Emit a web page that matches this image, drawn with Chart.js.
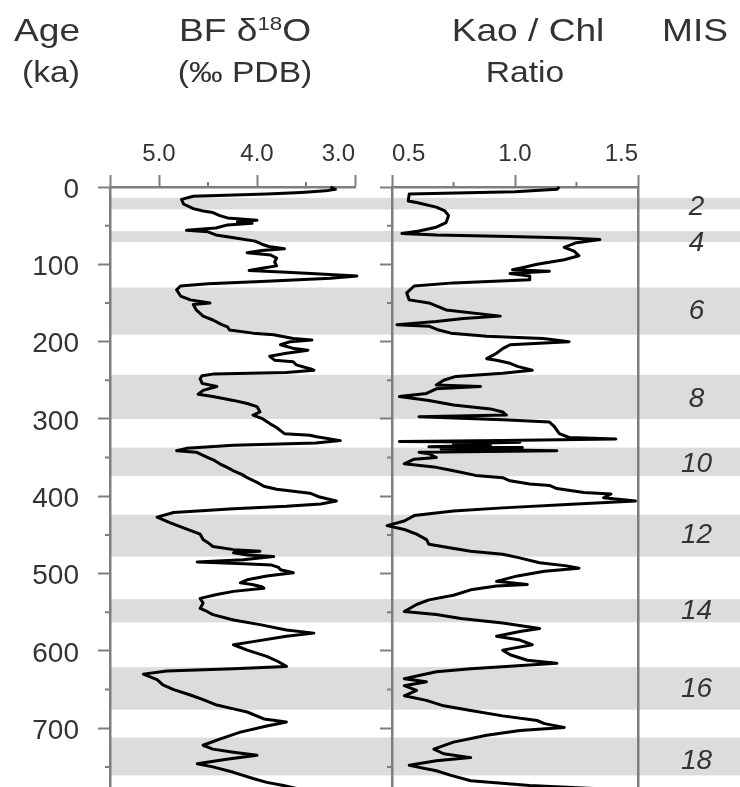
<!DOCTYPE html>
<html lang="en">
<head>
  <meta charset="UTF-8">
  <title>BF d18O and Kao/Chl ratio</title>
  <script src="https://cdn.jsdelivr.net/npm/chart.js@4.4.1/dist/chart.umd.min.js"></script>
  <style>
    body { margin: 0; background: #fff; }
    .wrap { position: relative; width: 740px; height: 787px; overflow: hidden;
            font-family: "Liberation Sans", Arial, Helvetica, sans-serif; color: #333; }
    canvas { position: absolute; top: 0; }
    .head { position: absolute; width: 200px; text-align: center; white-space: nowrap;
            transform: scaleX(1.16); }
    .row1 { top: 14px; font-size: 32px; line-height: 32px; }
    .row2 { top: 58px; font-size: 29px; line-height: 29px; }
    .sup { font-size: 0.6em; vertical-align: 0.55em; line-height: 0; }
  </style>
</head>
<body>
<div class="wrap">
  <canvas id="d18o-graph" width="370" height="787" style="left:0"></canvas>
  <canvas id="ratio-graph" width="370" height="787" style="left:370px"></canvas>

  <div class="head row1" style="left:-53px">Age</div>
  <div class="head row2" style="left:-49px">(ka)</div>
  <div class="head row1" style="left:145px">BF δ<span class="sup">18</span>O</div>
  <div class="head row2" style="left:145px">(‰ PDB)</div>
  <div class="head row1" style="left:428px">Kao / Chl</div>
  <div class="head row2" style="left:425px">Ratio</div>
  <div class="head row1" style="left:595px">MIS</div>
</div>

<script>
const axisColor = '#7e7e7e';
const textColor = '#333';
const fontFamily = '"Liberation Sans", Arial, Helvetica, sans-serif';

// age axis (ka)
const ageMin = 0;
const ageMax = 776;
const ageMinorTicks = [50, 150, 250, 350, 450, 550, 650, 750];

// benthic foram d18O
const d18oAge = [0, 3, 5, 7, 9, 12, 16, 22, 28, 31, 33, 37, 40, 42, 43, 45, 47, 49, 53, 56,
  58, 62, 66, 70, 74, 77, 80, 82, 85, 88, 92, 97, 102, 105, 108, 110, 112, 115, 118, 122,
  125, 128, 133, 141, 146, 150, 152, 159, 167, 172, 178, 181, 185, 189, 191, 196, 198, 200, 204, 209,
  211, 215, 219, 224, 226, 230, 235, 237, 240, 242, 244, 248, 254, 258, 263, 268, 271, 276, 280, 284,
  291, 295, 300, 306, 311, 315, 319, 321, 323, 328, 331, 334, 338, 341, 343, 347, 350, 354, 358, 363,
  367, 372, 376, 382, 387, 391, 396, 401, 406, 410, 413, 416, 421, 427, 434, 441, 449, 456, 460, 465,
  469, 471, 473, 476, 478, 480, 482, 485, 487, 489, 492, 495, 499, 503, 508, 512, 514, 517, 519, 523,
  527, 532, 538, 545, 549, 553, 560, 566, 573, 577, 581, 588, 592, 599, 607, 614, 620, 623, 626, 630,
  637, 644, 650, 657, 663, 670, 675, 679, 688, 692, 697, 705, 714, 722, 727, 731, 735, 740, 746, 750,
  757, 765, 770, 774, 779];
const d18oValue = [3.25, 3.2, 3.3, 3.55, 3.9, 4.65, 4.77, 4.75, 4.65, 4.55, 4.45, 4.38, 4.3, 4.1, 4.0, 4.2, 4.05, 4.3, 4.42, 4.72,
  4.5, 4.42, 4.22, 4.02, 3.95, 3.88, 3.72, 3.95, 4.1, 3.86, 3.8, 3.82, 3.8, 3.95, 4.08, 3.75, 3.45, 2.98, 3.25, 3.9,
  4.5, 4.78, 4.82, 4.78, 4.68, 4.48, 4.65, 4.62, 4.55, 4.45, 4.36, 4.3, 4.28, 4.04, 3.83, 3.63, 3.44, 3.66, 3.76, 3.62,
  3.48, 3.7, 3.87, 3.82, 3.63, 3.6, 3.46, 3.42, 3.7, 4.45, 4.56, 4.58, 4.56, 4.41, 4.55, 4.6, 4.45, 4.24, 4.1, 4.0,
  3.97, 4.04, 3.94, 3.87, 3.8, 3.76, 3.72, 3.46, 3.39, 3.15, 3.4, 4.24, 4.72, 4.82, 4.62, 4.55, 4.5, 4.43, 4.38, 4.3,
  4.24, 4.15, 4.1, 4.0, 3.93, 3.8, 3.46, 3.36, 3.19, 3.35, 3.7, 4.24, 4.85, 5.02, 4.89, 4.75, 4.58, 4.55, 4.5, 4.45,
  4.24, 3.97, 4.24, 4.1, 3.83, 4.0, 4.14, 4.61, 4.2, 3.85, 3.78, 3.76, 3.63, 3.9, 4.1, 4.17, 4.05, 3.95, 3.93, 4.24,
  4.41, 4.58, 4.55, 4.58, 4.51, 4.45, 4.24, 3.97, 3.7, 3.42, 3.7, 4.04, 4.24, 4.1, 3.9, 3.78, 3.7, 4.24, 4.92, 5.16,
  5.02, 4.96, 4.85, 4.68, 4.55, 4.41, 4.24, 4.1, 3.93, 3.7, 3.9, 4.17, 4.38, 4.55, 4.45, 4.24, 4.0, 4.31, 4.61, 4.45,
  4.24, 4.04, 3.9, 3.73, 3.56];
const d18oMin = 3.0;
const d18oMax = 5.5;
const d18oTicks = [3.0, 4.0, 5.0, 5.5];
const d18oMinorTicks = [4.5, 3.5];

// kaolinite / chlorite ratio
const ratioAge = [0, 3, 6, 9, 18, 20, 26, 31, 37, 46, 52, 57, 60, 62, 64, 66, 68, 72, 78, 83,
  89, 94, 100, 105, 107, 109, 112, 115, 120, 124, 128, 137, 146, 150, 159, 167, 170, 174, 178, 180,
  185, 189, 193, 196, 200, 204, 209, 215, 222, 224, 228, 232, 237, 241, 245, 250, 256, 258, 261, 267,
  271, 276, 282, 287, 291, 295, 297, 301, 304, 310, 319, 324, 326, 328, 329, 330, 332, 334, 336, 337,
  339, 341, 343, 345, 350, 352, 358, 362, 367, 373, 376, 380, 384, 386, 390, 395, 397, 402, 406, 410,
  415, 419, 425, 432, 438, 443, 449, 456, 462, 467, 471, 475, 479, 486, 490, 493, 497, 503, 510, 514,
  516, 521, 528, 534, 540, 549, 553, 558, 564, 571, 575, 581, 586, 592, 599, 605, 612, 616, 623, 627,
  636, 640, 645, 651, 658, 664, 671, 677, 684, 690, 694, 699, 703, 709, 718, 727, 733, 738, 742, 748,
  755, 761, 768, 774, 779];
const ratioValue = [1.18, 1.17, 1.0, 0.57, 0.566, 0.6, 0.68, 0.715, 0.73, 0.72, 0.68, 0.61, 0.54, 0.68, 0.98, 1.22, 1.345, 1.25, 1.2, 1.24,
  1.26, 1.2, 1.09, 1.02, 0.99, 1.14, 0.98, 1.06, 1.06, 0.75, 0.59, 0.56, 0.57, 0.65, 0.72, 0.94, 0.79, 0.68, 0.52, 0.65,
  0.69, 0.74, 0.885, 1.115, 1.22, 0.98, 0.95, 0.925, 0.885, 0.925, 0.98, 1.01, 1.07, 0.95, 0.76, 0.71, 0.68, 0.86, 0.68, 0.64,
  0.53, 0.65, 0.75, 0.9, 0.95, 0.965, 0.61, 0.95, 1.14, 1.16, 1.18, 1.22, 1.41, 0.95, 0.53, 1.02, 0.75, 0.9, 0.65, 1.03,
  0.7, 1.17, 0.61, 0.65, 0.68, 0.59, 0.55, 0.67, 0.75, 0.84, 0.95, 0.98, 1.06, 1.14, 1.17, 1.28, 1.39, 1.36, 1.49, 1.25,
  0.95, 0.75, 0.59, 0.55, 0.48, 0.55, 0.6, 0.64, 0.65, 0.74, 0.82, 0.95, 1.01, 1.1, 1.21, 1.26, 1.12, 1.01, 0.925, 1.05,
  0.925, 0.82, 0.75, 0.65, 0.6, 0.55, 0.68, 0.78, 0.95, 1.1, 1.02, 0.925, 1.02, 1.07, 0.95, 0.98, 1.05, 1.17, 0.82, 0.68,
  0.55, 0.64, 0.55, 0.6, 0.55, 0.64, 0.71, 0.82, 0.95, 1.09, 1.12, 1.2, 1.02, 0.885, 0.75, 0.67, 0.71, 0.82, 0.68, 0.57,
  0.68, 0.74, 0.82, 1.06, 1.39];
const ratioMin = 0.5;
const ratioMax = 1.5;
const ratioMinorTicks = [0.75, 1.25];

// marine isotope stages (even = glacial, shaded)
const misStage = ['2', '4', '6', '8', '10', '12', '14', '16', '18'];
const misLabelAge = [26, 73, 160, 274, 359, 450, 549, 649, 743];
const misBandStart = [14, 57, 130, 243, 337, 424, 533, 621, 712];
const misBandEnd = [29, 71, 191, 300, 374, 478, 563, 676, 761];

const bandsPlugin = {
  id: 'misBands',
  beforeDraw(chart, args, opts) {
    const {ctx, chartArea, scales: {y}} = chart;
    const x0 = opts.fromEdge ? 0 : chartArea.left;
    ctx.save();
    ctx.fillStyle = opts.color;
    misBandStart.forEach((s, i) => {
      const top = y.getPixelForValue(s);
      const bottom = y.getPixelForValue(misBandEnd[i]);
      ctx.fillRect(x0, top, chart.width - x0, bottom - top);
    });
    ctx.restore();
  }
};

const minorTicksPlugin = {
  id: 'minorTicks',
  afterDraw(chart, args, opts) {
    const {ctx, chartArea, scales: {x, y}} = chart;
    ctx.save();
    ctx.strokeStyle = axisColor;
    ctx.lineWidth = 2;
    ctx.beginPath();
    opts.xValues.forEach(v => {
      const px = x.getPixelForValue(v);
      ctx.moveTo(px, chartArea.top);
      ctx.lineTo(px, chartArea.top - opts.length);
    });
    opts.yValues.forEach(v => {
      const py = y.getPixelForValue(v);
      ctx.moveTo(chartArea.left, py);
      ctx.lineTo(chartArea.left - opts.length, py);
    });
    ctx.stroke();
    ctx.restore();
  }
};

const tickGrid = {display: true, drawOnChartArea: false, drawTicks: true, tickLength: 12, tickColor: axisColor, tickWidth: 2};
const axisBorder = {color: axisColor, width: 2.5};

// fixed axis sizes so both panels line up with the reference
const fitTop = s => { s.height = 187; s.paddingLeft = 0; s.paddingRight = 0; };
const fitSide = w => s => { s.width = w; s.paddingTop = 0; s.paddingBottom = 0; };

const profileLine = (ages, values) => ({
  data: ages.map((a, i) => ({x: values[i], y: a})),
  showLine: true,
  borderColor: '#000',
  borderWidth: 3,
  borderJoinStyle: 'round',
  pointRadius: 0,
  tension: 0,
  clip: 10
});

new Chart('d18o-graph', {
  type: 'scatter',
  data: {datasets: [profileLine(d18oAge, d18oValue)]},
  plugins: [bandsPlugin, minorTicksPlugin],
  options: {
    responsive: false,
    animation: false,
    layout: {padding: {right: 15}},
    plugins: {
      legend: {display: false},
      tooltip: {enabled: false},
      misBands: {color: '#dcdcdc', fromEdge: false},
      minorTicks: {xValues: d18oMinorTicks, yValues: ageMinorTicks, length: 5}
    },
    scales: {
      x: {
        type: 'linear', position: 'top', min: d18oMin, max: d18oMax, reverse: true,
        afterBuildTicks: s => { s.ticks = d18oTicks.map(v => ({value: v})); },
        ticks: {padding: 6, color: textColor, font: {family: fontFamily, size: 24},
          align: 'inner', maxRotation: 0, autoSkip: false,
          callback: v => Number.isInteger(v) ? v.toFixed(1) : ''},
        grid: tickGrid,
        border: axisBorder,
        afterFit: fitTop
      },
      y: {
        type: 'linear', position: 'left', min: ageMin, max: ageMax, reverse: true,
        ticks: {stepSize: 100, includeBounds: false, padding: 19, labelOffset: 3,
          color: textColor, font: {family: fontFamily, size: 28}},
        grid: tickGrid,
        border: axisBorder,
        afterFit: fitSide(110)
      }
    }
  }
});

new Chart('ratio-graph', {
  type: 'scatter',
  data: {datasets: [profileLine(ratioAge, ratioValue)]},
  plugins: [bandsPlugin, minorTicksPlugin],
  options: {
    responsive: false,
    animation: false,
    layout: {padding: 0},
    plugins: {
      legend: {display: false},
      tooltip: {enabled: false},
      misBands: {color: '#dcdcdc', fromEdge: true},
      minorTicks: {xValues: ratioMinorTicks, yValues: ageMinorTicks, length: 5}
    },
    scales: {
      x: {
        type: 'linear', position: 'top', min: ratioMin, max: ratioMax,
        ticks: {stepSize: 0.5, padding: 6, color: textColor, font: {family: fontFamily, size: 24},
          align: 'inner', maxRotation: 0, autoSkip: false,
          callback: v => v.toFixed(1)},
        grid: tickGrid,
        border: axisBorder,
        afterFit: fitTop
      },
      y: {
        type: 'linear', position: 'left', min: ageMin, max: ageMax, reverse: true,
        ticks: {stepSize: 100, includeBounds: false, display: false},
        grid: tickGrid,
        border: axisBorder,
        afterFit: fitSide(22)
      },
      mis: {
        type: 'linear', position: 'right', min: ageMin, max: ageMax, reverse: true,
        afterBuildTicks: s => { s.ticks = misLabelAge.map(v => ({value: v})); },
        ticks: {autoSkip: false, crossAlign: 'center', padding: 43, color: textColor,
          font: {family: fontFamily, size: 28, style: 'italic'},
          callback: (v, i) => misStage[i]},
        grid: {display: false, drawTicks: false},
        border: axisBorder,
        afterFit: fitSide(102)
      }
    }
  }
});
</script>
</body>
</html>
